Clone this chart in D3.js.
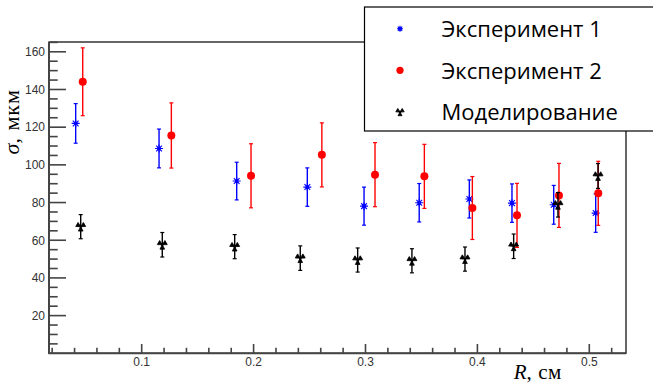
<!DOCTYPE html>
<html><head><meta charset="utf-8">
<script src="https://cdn.jsdelivr.net/npm/d3@7"></script>
<style>body{margin:0;background:#fff}svg{display:block}</style>
</head><body>
<svg id="c" width="653" height="383"></svg>
<script>
// ---- data ----
const R1 = [0.041, 0.1155, 0.1849, 0.248, 0.2987, 0.348, 0.3928, 0.4309, 0.4682, 0.5057];
const sigma1 = [122.0, 108.7, 91.4, 88.2, 78.1, 79.9, 81.9, 79.7, 78.8, 74.4];
const err1 = [10.5, 10.3, 10.0, 10.2, 10.1, 10.2, 10.1, 10.2, 10.3, 10.2];

const R2 = [0.0473, 0.1265, 0.1977, 0.261, 0.3085, 0.3526, 0.3955, 0.4354, 0.4729, 0.508];
const sigma2 = [144.1, 115.6, 94.2, 105.3, 94.8, 93.9, 77.1, 73.2, 83.8, 84.9];
const err2 = [18.0, 17.3, 17.0, 17.0, 17.0, 17.0, 16.7, 17.0, 17.0, 17.0];

const R3 = [0.0455, 0.1184, 0.1831, 0.2417, 0.293, 0.3415, 0.3889, 0.4324, 0.472, 0.5078];
const sigma3 = [67.2, 57.6, 56.6, 50.5, 49.5, 49.1, 50.0, 56.8, 78.8, 94.1];
const err3 = [6.4, 6.5, 6.4, 6.5, 6.4, 6.4, 6.4, 6.5, 6.5, 6.6];

const seriesNames = ["Эксперимент 1", "Эксперимент 2", "Моделирование"];
const xTickValues = [0.1, 0.2, 0.3, 0.4, 0.5];
const yTickValues = [20, 40, 60, 80, 100, 120, 140, 160];
const xTitle = "R, см";
const yTitle = "σ, мкм";

// ---- layout ----
const svg = d3.select("#c");
const L = 49, Rr = 626, T = 42, B = 353.3;
const x = d3.scaleLinear().domain([0.01716, 0.5328]).range([L, Rr]);
const y = d3.scaleLinear().domain([0, 165.2]).range([B, T]);
const axisCol = "#444";

// frame
svg.append("rect").attr("x", L).attr("y", T).attr("width", Rr - L).attr("height", B - T)
  .attr("fill", "none").attr("stroke", "#000").attr("stroke-width", 1.2);

// y axis ticks (inside)
const yMinor = d3.range(5, 166, 5).filter(v => v <= 165.2);
svg.append("g").selectAll("line").data(yMinor).join("line")
  .attr("x1", L).attr("x2", v => L + (v % 20 === 0 ? 17 : 8.7))
  .attr("y1", v => y(v)).attr("y2", v => y(v))
  .attr("stroke", axisCol).attr("stroke-width", 1.6);
svg.append("g").selectAll("text").data(yTickValues).join("text")
  .attr("x", 45).attr("y", v => y(v) + 4.3).attr("text-anchor", "end")
  .attr("font-family", "Liberation Sans, Arial, sans-serif").attr("font-size", 12).attr("fill", "#333")
  .text(v => v);

// x axis ticks (inside)
const xMinor = d3.range(2, 53, 2).map(v => v / 100);
svg.append("g").selectAll("line").data(xMinor).join("line")
  .attr("x1", v => x(v)).attr("x2", v => x(v))
  .attr("y1", B).attr("y2", v => B - (Math.round(v * 100) % 10 === 0 ? 9.3 : 5.5))
  .attr("stroke", axisCol).attr("stroke-width", 1.6);
svg.append("g").selectAll("text").data(xTickValues).join("text")
  .attr("x", v => x(v)).attr("y", 365.5).attr("text-anchor", "middle")
  .attr("font-family", "Liberation Sans, Arial, sans-serif").attr("font-size", 12).attr("fill", "#333")
  .text(v => v.toFixed(1));

// axis lines
svg.append("line").attr("x1", L).attr("x2", L).attr("y1", T).attr("y2", B + 0.5).attr("stroke", axisCol).attr("stroke-width", 2);
svg.append("line").attr("x1", L - 0.5).attr("x2", Rr).attr("y1", B).attr("y2", B).attr("stroke", axisCol).attr("stroke-width", 2);

// axis titles
const xt = svg.append("text").attr("x", 562).attr("y", 378.5).attr("text-anchor", "end")
  .attr("font-family", "Liberation Serif, Times New Roman, serif").attr("font-size", 21).attr("fill", "#000");
xt.append("tspan").attr("font-style", "italic").text(xTitle.split(",")[0]);
xt.append("tspan").attr("letter-spacing", 0.6).text("," + xTitle.split(",")[1]);
const yt = svg.append("text").attr("transform", "translate(18.5,89) rotate(-90)").attr("text-anchor", "end")
  .attr("font-family", "Liberation Serif, Times New Roman, serif").attr("font-size", 22).attr("fill", "#000");
yt.append("tspan").attr("font-style", "italic").text(yTitle.split(",")[0]);
yt.append("tspan").attr("letter-spacing", 1).text("," + yTitle.split(",")[1]);

// ---- markers ----
function asterisk(g, s, col) {
  const p = `M${-s},0L${s},0M0,${-s}L0,${s}M${-s*0.72},${-s*0.72}L${s*0.72},${s*0.72}M${-s*0.72},${s*0.72}L${s*0.72},${-s*0.72}`;
  g.append("path").attr("d", p).attr("stroke", col).attr("stroke-width", 1.1).attr("fill", "none");
  g.append("rect").attr("x", -1.6).attr("y", -1.6).attr("width", 3.2).attr("height", 3.2).attr("fill", col);
}
function circle(g, r, col) {
  g.append("circle").attr("r", r).attr("fill", col);
}
function threeTri(g, s, col) {
  let d = "";
  [-150, -30, 90].forEach(a => {
    const a1 = (a - 28) * Math.PI / 180, a2 = (a + 28) * Math.PI / 180;
    d += `M0,0L${s * Math.cos(a1)},${s * Math.sin(a1)}L${s * Math.cos(a2)},${s * Math.sin(a2)}Z`;
  });
  g.append("path").attr("d", d).attr("fill", col).attr("stroke", col).attr("stroke-width", 0.8);
  g.append("circle").attr("r", 1.3).attr("fill", col);
}

const series = [
  { xs: R1, ys: sigma1, es: err1, col: "#0000ff", mk: (g) => asterisk(g, 4, "#0000ff"), lg: (g) => asterisk(g, 3, "#0000ff") },
  { xs: R2, ys: sigma2, es: err2, col: "#ff0000", mk: (g) => circle(g, 4, "#ff0000"), lg: (g) => circle(g, 3.6, "#ff0000") },
  { xs: R3, ys: sigma3, es: err3, col: "#000000", mk: (g) => threeTri(g, 5, "#000"), lg: (g) => threeTri(g, 4.2, "#000") }
];

series.forEach(s => {
  const data = s.xs.map((xv, i) => ({ x: xv, y: s.ys[i], e: s.es[i] }));
  const g = svg.append("g");
  const pts = g.selectAll("g").data(data).join("g");
  pts.append("line").attr("x1", d => x(d.x)).attr("x2", d => x(d.x))
    .attr("y1", d => y(d.y + d.e)).attr("y2", d => y(d.y - d.e))
    .attr("stroke", s.col).attr("stroke-width", 1.4);
  pts.append("line").attr("x1", d => x(d.x) - 2).attr("x2", d => x(d.x) + 2)
    .attr("y1", d => y(d.y + d.e)).attr("y2", d => y(d.y + d.e))
    .attr("stroke", s.col).attr("stroke-width", 1.2);
  pts.append("line").attr("x1", d => x(d.x) - 2).attr("x2", d => x(d.x) + 2)
    .attr("y1", d => y(d.y - d.e)).attr("y2", d => y(d.y - d.e))
    .attr("stroke", s.col).attr("stroke-width", 1.2);
  pts.each(function (d) {
    const m = d3.select(this).append("g").attr("transform", `translate(${x(d.x)},${y(d.y)})`);
    s.mk(m);
  });
});

// ---- legend ----
svg.append("rect").attr("x", 364.5).attr("y", 7).attr("width", 300).attr("height", 124)
  .attr("fill", "#fff").attr("stroke", "#000").attr("stroke-width", 1.2);
const rowsY = [28.7, 70.3, 112];
series.forEach((s, i) => {
  const m = svg.append("g").attr("transform", `translate(400,${rowsY[i]})`);
  s.lg(m);
  svg.append("text").attr("x", 441.5).attr("y", rowsY[i] + 8.3)
    .attr("font-family", "Open Sans, Noto Sans, sans-serif").attr("font-size", 22).attr("fill", "#000")
    .text(seriesNames[i]);
});
</script>
</body></html>
